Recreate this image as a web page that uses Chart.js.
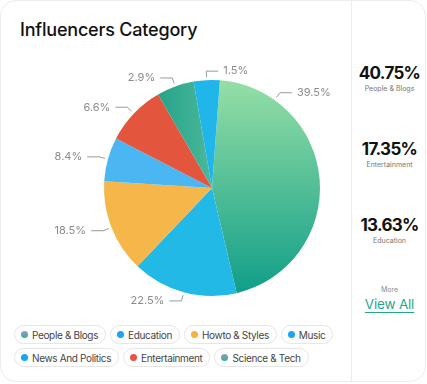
<!DOCTYPE html>
<html>
<head>
<meta charset="utf-8">
<script src="https://cdn.jsdelivr.net/npm/chart.js@4/dist/chart.umd.min.js"></script>
<style>
  body { margin: 0; background: #fff; font-family: Inter, "Noto Sans", sans-serif; }
  .card { position: absolute; left: 0; top: 0; width: 424px; height: 380px; border: 1px solid #ececec; border-radius: 16px; background: #fff; overflow: hidden; }
  .title { position: absolute; left: 19px; top: 18px; font-size: 18px; font-weight: 500; color: #111; letter-spacing: -0.2px; }
  #pie { position: absolute; left: 0; top: 0; }
  .side { position: absolute; left: 350px; top: 0; width: 75px; height: 380px; border-left: 1px solid #ececec; text-align: center; }
  .stat { position: absolute; left: 0; width: 75px; }
  .stat b { display: block; font-size: 17px; font-weight: 700; color: #111; letter-spacing: -0.7px; line-height: 20px; }
  .stat span { display: block; font-size: 7px; color: #777; margin-top: 1px; }
  .more { position: absolute; left: 0; top: 284px; width: 75px; font-size: 7px; color: #888; }
  .viewall { position: absolute; left: 0; top: 295px; width: 75px; font-size: 13.5px; color: #1fa88f; text-decoration: underline; text-underline-offset: 3px; letter-spacing: -0.2px; }
  .legend { position: absolute; left: 13px; top: 324px; width: 345px; }
  .pill { box-sizing: border-box; display: inline-flex; align-items: center; height: 19px; padding: 0 7px 0 6px; margin: 0 4px 4px 0; border: 1px solid #e6e6e6; border-radius: 10px; font-size: 10px; letter-spacing: -0.35px; color: #444; vertical-align: top; white-space: nowrap; }
  .pill i { display: inline-block; width: 7px; height: 7px; border-radius: 50%; margin-right: 4px; }
</style>
</head>
<body>
<div class="card">
  <div class="title">Influencers Category</div>
  <canvas id="pie" width="350" height="320"></canvas>
  <div class="legend" id="legend"></div>
  <div class="side" id="side">
    <div class="more">More</div>
    <div class="viewall">View All</div>
  </div>
</div>
<script>
// slices, clockwise from just right of 12 o'clock
const categories = ["People & Blogs", "Education", "Howto & Styles", "Music", "Entertainment", "Science & Tech", "News And Politics"];
const shares = [45.2, 15.8, 13.9, 6.6, 9.1, 5.6, 3.9];
const pctLabels = ["39.5%", "22.5%", "18.5%", "8.4%", "6.6%", "2.9%", "1.5%"];
const legendOrder = ["People & Blogs", "Education", "Howto & Styles", "Music", "News And Politics", "Entertainment", "Science & Tech"];
const topValues = ["40.75%", "17.35%", "13.63%"];
const topNames = ["People & Blogs", "Entertainment", "Education"];

const sliceColors = {
  "Education": "#23b9e6",
  "Howto & Styles": "#f6b74a",
  "Music": "#4bb7f2",
  "Entertainment": "#e4553e",
  "News And Politics": "#21b6ea"
};
const dotColors = {
  "People & Blogs": "linear-gradient(#9a93d6, #35b48a)",
  "Education": "#1ba4f2",
  "Howto & Styles": "#f5b240",
  "Music": "#1ba4f2",
  "News And Politics": "#1ba4f2",
  "Entertainment": "#e4553e",
  "Science & Tech": "linear-gradient(#9a93d6, #35b48a)"
};

// side stats
const side = document.getElementById("side");
topValues.forEach((v, i) => {
  const d = document.createElement("div");
  d.className = "stat";
  d.style.top = (62 + i * 76) + "px";
  d.innerHTML = `<b>${v}</b><span>${topNames[i]}</span>`;
  side.appendChild(d);
});

// legend pills
const legend = document.getElementById("legend");
legendOrder.forEach((name) => {
  const p = document.createElement("span");
  p.className = "pill";
  p.innerHTML = `<i style="background:${dotColors[name]}"></i>${name}`;
  legend.appendChild(p);
});

function sliceColor(context) {
  const name = categories[context.dataIndex];
  const chart = context.chart;
  const area = chart.chartArea;
  if (!area) return "#ccc";
  const ctx = chart.ctx;
  if (name === "People & Blogs") {
    const g = ctx.createLinearGradient(0, area.top, 0, area.bottom);
    g.addColorStop(0, "#96dfa6");
    g.addColorStop(1, "#0e9d88");
    return g;
  }
  if (name === "Science & Tech") {
    const g = ctx.createLinearGradient(area.left + 50, 0, area.left + 110, 0);
    g.addColorStop(0, "#22a287");
    g.addColorStop(1, "#4db89c");
    return g;
  }
  return sliceColors[name];
}

// outside labels with elbow connectors
const labelMaxX = 330;
const outsideLabels = {
  id: "outsideLabels",
  afterDatasetsDraw(chart) {
    const ctx = chart.ctx;
    const arcs = chart.getDatasetMeta(0).data;
    ctx.save();
    ctx.font = "11px Inter, sans-serif";
    ctx.textBaseline = "middle";
    ctx.strokeStyle = "#9a9a9a";
    ctx.fillStyle = "#8a8a8a";
    ctx.lineWidth = 1;
    arcs.forEach((arc, i) => {
      const text = pctLabels[i];
      const tw = ctx.measureText(text).width;
      const r = arc.outerRadius;
      let a = (arc.startAngle + arc.endAngle) / 2;
      const pt = (rad, ang) => ({ x: arc.x + rad * Math.cos(ang), y: arc.y + rad * Math.sin(ang) });
      // pull right-side label up until it fits
      while (Math.cos(a) > 0 && pt(r + 9, a).x + 17 + tw > labelMaxX) a -= Math.PI / 180;
      const p0 = pt(r + 3, a);
      const p1 = pt(r + 9, a);
      const dir = Math.cos(a) > -0.1 ? 1 : -1;
      const p2 = { x: p1.x + dir * 12, y: p1.y };
      ctx.beginPath();
      ctx.moveTo(p0.x, p0.y);
      ctx.lineTo(p1.x, p1.y);
      ctx.lineTo(p2.x, p2.y);
      ctx.stroke();
      ctx.textAlign = dir > 0 ? "left" : "right";
      ctx.fillText(text, p2.x + dir * 5, p2.y);
    });
    ctx.restore();
  }
};

new Chart(document.getElementById("pie"), {
  type: "pie",
  data: {
    labels: categories,
    datasets: [{
      data: shares,
      backgroundColor: sliceColor,
      borderWidth: 0
    }]
  },
  options: {
    responsive: false,
    animation: false,
    rotation: 4.2,
    layout: { padding: { top: 79, left: 103, right: 31, bottom: 25 } },
    plugins: { legend: { display: false }, tooltip: { enabled: false } }
  },
  plugins: [outsideLabels]
});
</script>
</body>
</html>
